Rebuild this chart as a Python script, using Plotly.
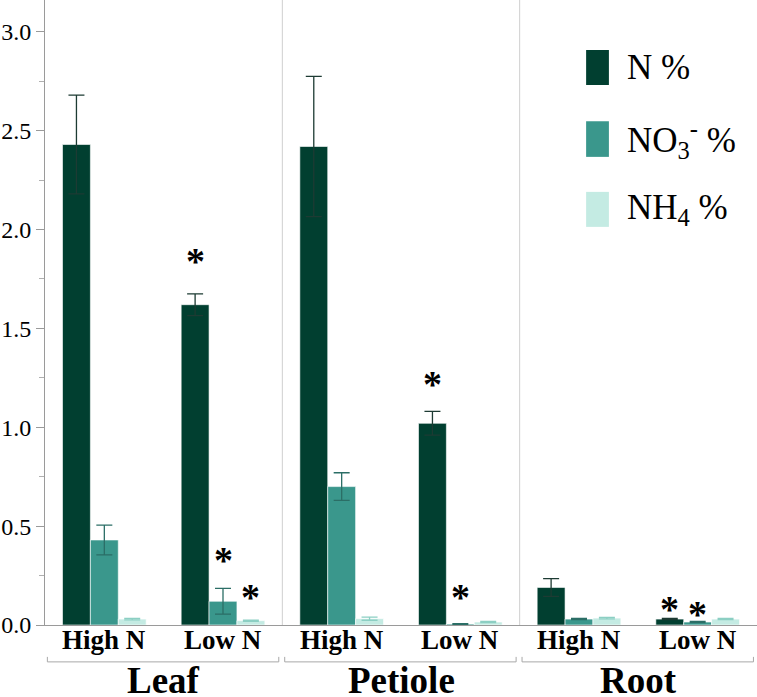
import plotly.graph_objects as go

# ---------------- data ----------------
tissues = ["Leaf", "Petiole", "Root"]
treatments = ["High N", "Low N"]
categories = [f"{t} {n}" for t in tissues for n in treatments]

series_names = ["N %", "NO<sub>3</sub><sup>-</sup> %", "NH<sub>4</sub> %"]

n_pct = [2.43, 1.62, 2.42, 1.02, 0.19, 0.03]
n_err = [0.25, 0.055, 0.355, 0.06, 0.045, 0.003]

no3_pct = [0.43, 0.12, 0.70, 0.005, 0.03, 0.015]
no3_err = [0.075, 0.065, 0.07, 0.002, 0.003, 0.003]

nh4_pct = [0.03, 0.022, 0.032, 0.015, 0.035, 0.03]
nh4_err = [0.004, 0.003, 0.008, 0.003, 0.004, 0.003]

# significance marks: (category index, series index, height of the star)
sig_marks = [
    (1, 0, 1.87), (1, 1, 0.36), (1, 2, 0.17),
    (3, 0, 1.25), (3, 1, 0.17),
    (5, 0, 0.11), (5, 1, 0.085),
]

y_ticks = [0.0, 0.5, 1.0, 1.5, 2.0, 2.5, 3.0]

# ---------------- style ----------------
colors = ["#013f30", "#3a978c", "#c4ebe3"]
err_colors = ["#1d3b33", "#2b6e66", "#8ccfc3"]
serif = "Times New Roman, Liberation Serif, DejaVu Serif, serif"

values = [n_pct, no3_pct, nh4_pct]
errors = [n_err, no3_err, nh4_err]

fig = go.Figure()
x_idx = list(range(len(categories)))
for i in range(3):
    fig.add_trace(go.Bar(
        x=x_idx, y=values[i], name=series_names[i],
        marker=dict(color=colors[i], line=dict(color="white", width=0.6)),
        error_y=dict(type="data", array=errors[i], visible=True,
                     color=err_colors[i], thickness=1.3, width=8),
        showlegend=False,
    ))

bar_w = 0.705 / 3
for ci, si, yv in sig_marks:
    fig.add_annotation(x=ci + (si - 1) * bar_w, y=yv, xref="x", yref="y",
                       text="<b>*</b>", showarrow=False,
                       font=dict(family=serif, size=38, color="black"),
                       yanchor="middle", yshift=-6)

# group dividers
for xv in [1.5, 3.5]:
    fig.add_shape(type="line", xref="x", yref="paper", x0=xv, x1=xv, y0=0, y1=1,
                  line=dict(color="#cfcfcf", width=1))

# treatment labels under each bar group
for ci, cat in enumerate(categories):
    fig.add_annotation(x=ci, y=-0.024, xref="x", yref="paper",
                       text=f"<b>{treatments[ci % 2]}</b>", showarrow=False,
                       yanchor="middle",
                       font=dict(family=serif, size=27, color="black"))

# brackets and group labels
by0, by1 = -0.059, -0.051
for gi, t in enumerate(tissues):
    xa = gi * 2 - 0.5 + 0.02
    xb = gi * 2 + 1.5 - 0.03
    for seg in [(xa, by0, xb, by0), (xa, by0, xa, by1), (xb, by0, xb, by1)]:
        fig.add_shape(type="line", xref="x", yref="paper",
                      x0=seg[0], y0=seg[1], x1=seg[2], y1=seg[3],
                      line=dict(color="#a8a8a8", width=1))
    fig.add_annotation(x=gi * 2 + 0.5, y=-0.089, xref="x", yref="paper",
                       text=f"<b>{t}</b>", showarrow=False, yanchor="middle",
                       font=dict(family=serif, size=37, color="black"))

# custom legend
leg_boxes = [(0.920, 0.864), (0.806, 0.749), (0.693, 0.637)]
for i, (ytop, ybot) in enumerate(leg_boxes):
    fig.add_shape(type="rect", xref="paper", yref="paper",
                  x0=0.760, x1=0.792, y0=ybot, y1=ytop,
                  fillcolor=colors[i], line=dict(width=0))
    fig.add_annotation(x=0.815, y=(ytop + ybot) / 2, xref="paper", yref="paper",
                       text=series_names[i], showarrow=False,
                       xanchor="left", yanchor="middle",
                       font=dict(family=serif, size=35, color="black"))

fig.update_layout(
    width=757, height=697,
    margin=dict(l=45, r=0, t=0, b=72, autoexpand=False),
    plot_bgcolor="white", paper_bgcolor="white",
    barmode="group", bargap=0.295, bargroupgap=0,
    xaxis=dict(
        range=[-0.5, 5.5], tickmode="array", tickvals=x_idx,
        showticklabels=False, automargin=False,
        showline=True, linecolor="#9a9a9a", linewidth=1,
        ticks="", showgrid=False, zeroline=False,
    ),
    yaxis=dict(
        range=[0, 3.161], tickmode="array", tickvals=y_ticks,
        ticktext=[f"{v:.1f}" for v in y_ticks], automargin=False,
        tickfont=dict(family=serif, size=24, color="black"),
        showline=True, linecolor="#9a9a9a", linewidth=1,
        ticks="outside", ticklen=8, tickcolor="#9a9a9a",
        minor=dict(ticks="outside", ticklen=5, dtick=0.25, tickcolor="#b0b0b0"),
        showgrid=False, zeroline=False,
    ),
)

fig.write_html("out.html", config={"displayModeBar": False},
               post_script="document.body.style.margin='0px';")
